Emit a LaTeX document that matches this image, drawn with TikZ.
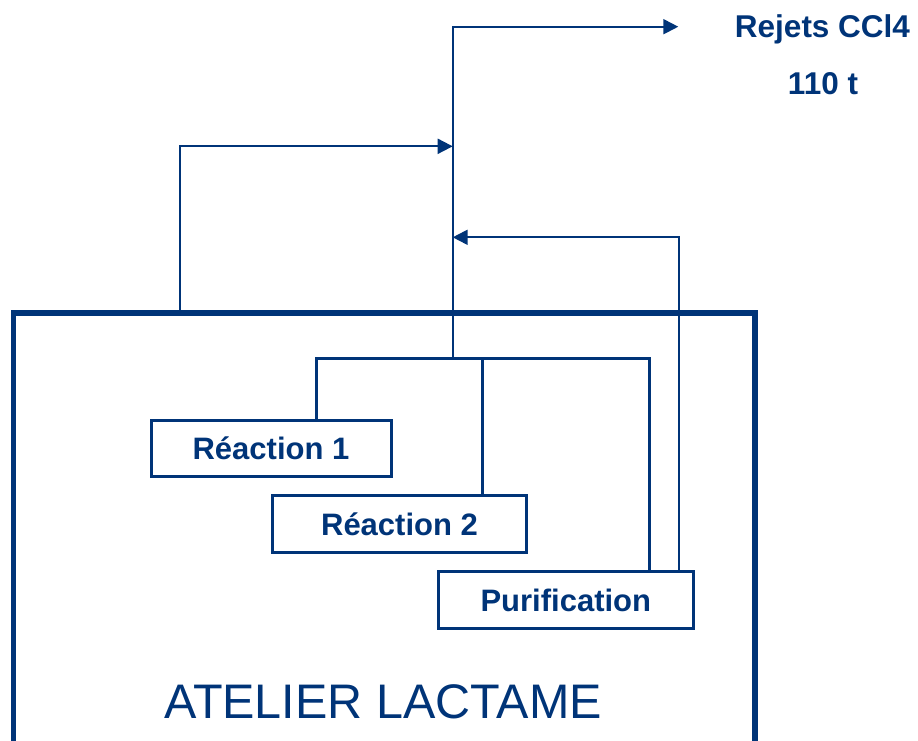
\documentclass[tikz,border=0pt]{standalone}
\usepackage{fontspec}
\setsansfont{Liberation Sans}
\usetikzlibrary{arrows.meta}
\definecolor{navy}{RGB}{0,52,120}

\begin{document}
\begin{tikzpicture}[x = 1pt, y = -1pt]
\tikzstyle{Atelier}=[draw = navy, line width = 5.5pt,
                     minimum width = 741.5pt, minimum height = 900pt]
\tikzstyle{Etape}=[draw = navy, line width = 3pt, text = navy,
                   font = \sffamily\bfseries\fontsize{31}{31}\selectfont,
						 text height = 22pt, text depth = 0pt, inner sep = 0pt]
\tikzstyle{Flux}=[draw = navy, line width = 2pt]
\tikzstyle{Collecteur}=[draw = navy, line width = 3pt]
\tikzstyle{Fleche}=[-{Triangle[length = 15pt, width = 15pt]}]
\useasboundingbox (0,0) rectangle (918,740);
\clip (0,0) rectangle (918,740);
\node[Atelier] (atelier) at (384.25, 763) {};
\node[text = navy, anchor = base, font = \sffamily\fontsize{48.5}{48.5}\selectfont] (nom) at (383, 718) {ATELIER LACTAME};
\node[Etape, minimum width = 240pt, minimum height = 56pt] (r1) at (271, 448.5) {Réaction 1};
\node[Etape, minimum width = 254pt, minimum height = 57pt] (r2) at (399.5, 524) {Réaction 2};
\node[Etape, minimum width = 255pt, minimum height = 57pt] (pur) at (565.8, 600.3) {Purification};
\node[text = navy, anchor = base, font = \sffamily\bfseries\fontsize{31.5}{31.5}\selectfont] (rejets) at (822.5, 37) {Rejets CCl4};
\node[text = navy, anchor = base, font = \sffamily\bfseries\fontsize{31.5}{31.5}\selectfont] (masse) at (823, 94) {110 t};
\coordinate (c1) at (316.3, 358);
\coordinate (hub) at (452.7, 358);
\coordinate (c2) at (482.7, 358);
\coordinate (c3) at (649.3, 358);
\coordinate (j1) at (452.7, 146.3);
\coordinate (j2) at (452.7, 237.3);
\coordinate (sortie) at (678.3, 26.7);
\draw[Collecteur] (r1.north -| c1) -- (c1) -- (c3) -- (pur.north -| c3);
\draw[Collecteur] (c2) -- (r2.north -| c2);
\draw[Flux, Fleche] (hub) |- (sortie);
\draw[Flux, Fleche] (atelier.north -| 180.3,0) |- (j1);
\draw[Flux, Fleche] (pur.north -| 679.3,0) |- (j2);
\end{tikzpicture}
\end{document}
